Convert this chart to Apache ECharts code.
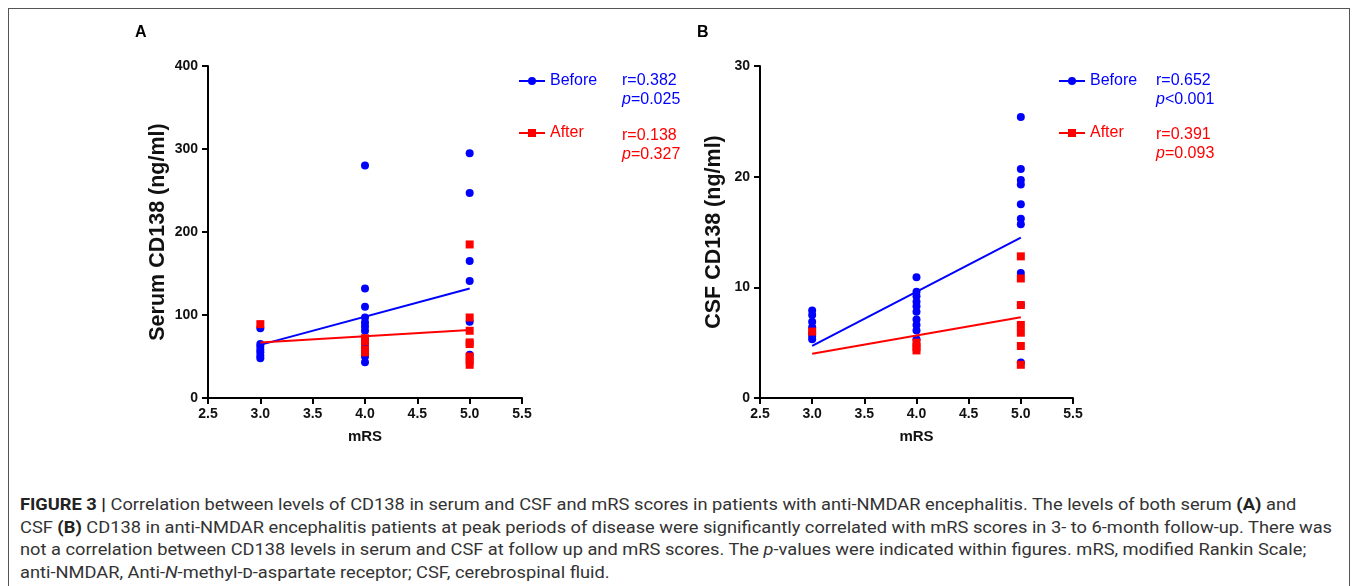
<!DOCTYPE html>
<html>
<head>
<meta charset="utf-8">
<script src="https://cdn.jsdelivr.net/npm/echarts@6/dist/echarts.min.js"></script>
<style>
  html, body { margin: 0; padding: 0; background: #fff; }
  #wrap { position: relative; width: 1358px; height: 586px; overflow: hidden; }
  #frame { position: absolute; left: 8px; top: 8px; width: 1342px; height: 600px; border: 1px solid #555; box-sizing: border-box; }
  #chart { position: absolute; left: 0; top: 0; width: 1358px; height: 470px; }
  #caption { position: absolute; left: 20px; top: 493px; font-family: "Roboto", "Liberation Sans", sans-serif; font-size: 17px; line-height: 22.5px; color: #333; white-space: nowrap; transform-origin: 0 0; }
  #caption > div { width: max-content; }
  #caption b { color: #222; }
  .sc { font-variant: small-caps; }
</style>
</head>
<body>
<div id="wrap">
  <div id="frame"></div>
  <div id="chart"></div>
  <div id="caption">
    <div><b>FIGURE 3 |</b> Correlation between levels of CD138 in serum and CSF and mRS scores in patients with anti-NMDAR encephalitis. The levels of both serum <b>(A)</b> and</div>
    <div>CSF <b>(B)</b> CD138 in anti-NMDAR encephalitis patients at peak periods of disease were significantly correlated with mRS scores in 3- to 6-month follow-up. There was</div>
    <div>not a correlation between CD138 levels in serum and CSF at follow up and mRS scores. The <i>p</i>-values were indicated within figures. mRS, modified Rankin Scale;</div>
    <div>anti-NMDAR, Anti-<i>N</i>-methyl-<span class="sc">d</span>-aspartate receptor; CSF, cerebrospinal fluid.</div>
  </div>
</div>
<script>
// ---------- Data ----------
// Panel A: Serum CD138 (ng/ml) vs mRS
const serumBeforeMRS = [3,3,3,3,3,3,3, 4,4,4,4,4,4,4,4,4,4, 5,5,5,5,5,5];
const serumBeforeVal = [84,65,62,58,55,51,48, 280,132,110,97,91,86,81,65,50,43, 295,247,165,141,92,52];
const serumAfterMRS  = [3, 4,4,4,4, 5,5,5,5,5,5,5,5];
const serumAfterVal  = [89, 72,68,58,55, 185,97,81,67,65,50,45,40];
const serumBeforeFit = [[3,64],[5,132]];
const serumAfterFit  = [[3,67],[5,82]];

// Panel B: CSF CD138 (ng/ml) vs mRS
const csfBeforeMRS = [3,3,3,3,3,3,3, 4,4,4,4,4,4,4,4,4,4, 5,5,5,5,5,5,5,5,5,5];
const csfBeforeVal = [7.9,7.5,6.9,6.4,5.9,5.6,5.3, 10.9,9.6,9.2,8.7,8.3,7.8,7.1,6.6,6.1,5.3, 25.4,20.7,19.7,19.3,17.5,16.2,15.7,11.3,8.4,3.2];
const csfAfterMRS  = [3, 4,4,4, 5,5,5,5,5,5,5];
const csfAfterVal  = [6.0, 5.0,4.6,4.3, 12.8,10.8,8.4,6.6,5.9,4.7,3.0];
const csfBeforeFit = [[3,4.7],[5,14.5]];
const csfAfterFit  = [[3,4.0],[5,7.3]];

const xTicks = { min: 2.5, max: 5.5, interval: 0.5 };
const statsA = { before: ['r=0.382', '=0.025'], after: ['r=0.138', '=0.327'] };
const statsB = { before: ['r=0.652', '<0.001'], after: ['r=0.391', '=0.093'] };

const zip = (xs, ys) => xs.map((x, i) => [x, ys[i]]);

// ---------- Styles ----------
const BLUE = '#0000ff', RED = '#ff0000';
const FONT = 'Arial, "Liberation Sans", sans-serif';

function xAxis(gridIndex) {
  return {
    type: 'value', gridIndex, min: xTicks.min, max: xTicks.max, interval: xTicks.interval,
    name: 'mRS', nameLocation: 'middle', nameGap: 31,
    nameTextStyle: { fontFamily: FONT, fontWeight: 'bold', fontSize: 15, color: '#111' },
    axisLine: { show: true, onZero: false, lineStyle: { color: '#000', width: 2 } },
    axisTick: { show: true, length: 6, lineStyle: { color: '#000', width: 2 } },
    axisLabel: { fontFamily: FONT, fontWeight: 'bold', fontSize: 14, color: '#111', margin: 9,
                 formatter: v => v.toFixed(1) },
    splitLine: { show: false }
  };
}
function yAxis(gridIndex, name, max, interval, gap) {
  return {
    type: 'value', gridIndex, min: 0, max, interval,
    name, nameLocation: 'middle', nameGap: gap,
    nameTextStyle: { fontFamily: FONT, fontWeight: 'bold', fontSize: 21.5, color: '#111' },
    axisLine: { show: true, onZero: false, lineStyle: { color: '#000', width: 2 } },
    axisTick: { show: true, length: 6, lineStyle: { color: '#000', width: 2 } },
    axisLabel: { fontFamily: FONT, fontWeight: 'bold', fontSize: 14, color: '#111', margin: 10 },
    splitLine: { show: false }
  };
}
function fitSeries(name, idx, data, color, symbol, size) {
  return {
    name, type: 'line', xAxisIndex: idx, yAxisIndex: idx, data,
    symbol, symbolSize: size, showSymbol: false,
    lineStyle: { color, width: 2 }, itemStyle: { color },
    silent: true, z: 3
  };
}
function pointSeries(name, idx, data, color, symbol, size) {
  return {
    name, type: 'scatter', xAxisIndex: idx, yAxisIndex: idx, data,
    symbol, symbolSize: size, itemStyle: { color, opacity: 1 }, z: 2
  };
}
function statText(left, top, lines, color) {
  return [
    { type: 'text', left, top, style: { text: lines[0], fill: color, font: '16px ' + FONT } },
    { type: 'text', left, top: top + 19, style: {
        text: '{i|p}{n|' + lines[1] + '}',
        rich: { i: { fontStyle: 'italic', fontSize: 16, fontFamily: FONT, fill: color, color },
                n: { fontSize: 16, fontFamily: FONT, fill: color, color } },
        fill: color, font: '16px ' + FONT } }
  ];
}
function legend(left) {
  return {
    orient: 'vertical', left, top: 68, itemWidth: 26, itemHeight: 10, itemGap: 36,
    selectedMode: false,
    textStyle: { fontFamily: FONT, fontSize: 16 },
    data: [
      { name: 'Before', textStyle: { color: BLUE } },
      { name: 'After', textStyle: { color: RED } }
    ]
  };
}

const chart = echarts.init(document.getElementById('chart'), null, { renderer: 'canvas' });
chart.setOption({
  animation: false,
  grid: [
    { left: 208, top: 66, width: 314, height: 332 },
    { left: 760, top: 66, width: 313, height: 332 }
  ],
  xAxis: [xAxis(0), xAxis(1)],
  yAxis: [
    yAxis(0, 'Serum CD138 (ng/ml)', 400, 100, 39),
    yAxis(1, 'CSF CD138 (ng/ml)', 30, 10, 35)
  ],
  legend: [legend(513), legend(1053)],
  series: [
    fitSeries('Before', 0, serumBeforeFit, BLUE, 'circle', 8),
    fitSeries('After', 0, serumAfterFit, RED, 'rect', 8),
    pointSeries('Before', 0, zip(serumBeforeMRS, serumBeforeVal), BLUE, 'circle', 8),
    pointSeries('After', 0, zip(serumAfterMRS, serumAfterVal), RED, 'rect', 8),
    fitSeries('Before', 1, csfBeforeFit, BLUE, 'circle', 8),
    fitSeries('After', 1, csfAfterFit, RED, 'rect', 8),
    pointSeries('Before', 1, zip(csfBeforeMRS, csfBeforeVal), BLUE, 'circle', 8),
    pointSeries('After', 1, zip(csfAfterMRS, csfAfterVal), RED, 'rect', 8)
  ],
  graphic: [
    { type: 'text', left: 135, top: 25, style: { text: 'A', font: 'bold 16px ' + FONT, fill: '#000' } },
    { type: 'text', left: 697, top: 25, style: { text: 'B', font: 'bold 16px ' + FONT, fill: '#000' } },
    ...statText(622, 73, statsA.before, BLUE),
    ...statText(622, 128, statsA.after, RED),
    ...statText(1156, 73, statsB.before, BLUE),
    ...statText(1156, 127, statsB.after, RED)
  ]
});

// Uniformly scale the caption so its widest line spans the reference text width.
(function () {
  const cap = document.getElementById('caption');
  let maxW = 0;
  cap.querySelectorAll(':scope > div').forEach(function (d) {
    maxW = Math.max(maxW, d.getBoundingClientRect().width);
  });
  if (maxW > 0) cap.style.transform = 'scaleX(' + (1312 / maxW) + ')';
})();
</script>
</body>
</html>
